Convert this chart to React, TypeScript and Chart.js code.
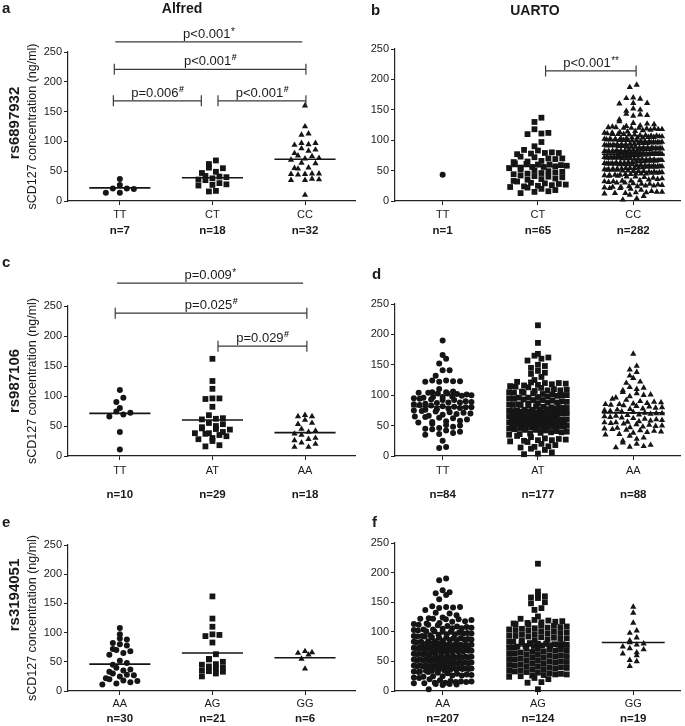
import React, { useEffect, useRef } from 'react';
import { Chart, registerables } from 'chart.js';
Chart.register(...registerables);

const FONT = "'Liberation Sans', Arial, Helvetica, sans-serif";
Chart.defaults.font.family = FONT;

// ---------- shared tick labels ----------
const yTickValues = [0, 50, 100, 150, 200, 250];
const rs6897932Genotypes = ['TT', 'CT', 'CC'];
const rs987106Genotypes = ['TT', 'AT', 'AA'];
const rs3194051Genotypes = ['AA', 'AG', 'GG'];

// ---------- a: Alfred rs6897932 ----------
const alfredRs6897932N = [7, 18, 32];
const alfredRs6897932TT = [37, 27, 21, 21, 20, 14, 14];
const alfredRs6897932CT = [68, 62, 56, 55, 49, 47, 42, 41, 40, 38, 36, 35, 30, 28, 27, 26, 17, 16];
const alfredRs6897932CC = [160, 125, 113, 111, 97, 97, 95, 94, 88, 86, 84, 80, 76, 75, 72, 71, 69, 64, 63, 56, 55, 54, 46, 46, 45, 45, 44, 37, 36, 35, 35, 10];
const alfredRs6897932Medians = [22, 39, 70];

// ---------- b: UARTO rs6897932 ----------
const uartoRs6897932N = [1, 65, 282];
const uartoRs6897932TT = [43];
const uartoRs6897932CT = [137, 130, 118, 112, 111, 110, 97, 90, 84, 83, 80, 79, 79, 78, 77, 73, 72, 70, 70, 69,
  66, 65, 64, 62, 61, 60, 60, 59, 58, 57, 56, 56, 55, 54, 52, 50, 49, 48, 47, 46,
  45, 44, 42, 41, 40, 39, 37, 36, 35, 33, 32, 30, 29, 28, 27, 26, 25, 24, 23, 22,
  20, 18, 16, 15, 13];
const uartoRs6897932CC = [191, 187, 170, 169, 168, 161, 161, 160, 152, 150, 148, 143, 142, 141, 140, 134, 131, 128, 127, 126,
  124, 123, 122, 121, 121, 120, 120, 120, 119, 119, 118, 118, 117, 116, 115, 114, 113, 112, 112, 111, 110, 110,
  110, 109, 109, 108, 108, 107, 107, 106, 106, 105, 105, 104, 104, 104, 103, 103, 102, 102, 101, 101,
  100, 100, 100, 99, 99, 98, 98, 97, 97, 97, 96, 96, 95, 95, 94, 94, 93, 93, 92, 92,
  92, 91, 91, 90, 90, 89, 89, 88, 88, 88, 87, 87, 86, 86, 85, 85, 85, 84, 84, 83,
  83, 83, 82, 82, 82, 81, 81, 81, 80, 80, 80, 80, 79, 79, 79, 79, 78, 78, 78, 78,
  78, 77, 77, 77, 77, 77, 101, 96, 93, 89, 86, 84, 81, 79, 98, 102, 88, 91, 95,
  76, 76, 76, 75, 75, 75, 74, 74, 74, 73, 73, 73, 72, 72, 72, 71, 71, 71, 70, 70,
  70, 69, 69, 69, 68, 68, 68, 67, 67, 66, 66, 66, 65, 65, 65, 64, 64, 63, 63, 63,
  62, 62, 61, 61, 61, 60, 60, 60, 59, 59, 58, 58, 58, 57, 57, 56, 56, 56, 55, 55,
  54, 54, 54, 53, 53, 52, 52, 51, 51, 51, 50, 50, 49, 49, 48, 48, 47, 47, 46, 46,
  45, 45, 44, 44, 43, 43, 42, 42, 41, 41, 40, 40, 71, 67, 62, 57, 53, 49, 45, 60,
  39, 38, 37, 36, 35, 34, 33, 33, 32, 32, 31, 30, 30, 29, 28, 28, 27, 26, 25, 25, 24, 24, 23, 23, 22, 21, 21, 20,
  18, 16, 15, 15, 14, 14, 13, 13, 12, 10, 8, 4, 2];
const uartoRs6897932Medians = [null, 57, 77];

// ---------- c: Alfred rs987106 ----------
const alfredRs987106N = [10, 29, 18];
const alfredRs987106TT = [110, 97, 90, 80, 74, 72, 69, 66, 40, 11];
const alfredRs987106AT = [162, 125, 112, 96, 96, 95, 82, 68, 63, 62, 61, 55, 53, 50, 48, 46, 45, 44, 40, 38, 38, 37, 35, 33, 30, 28, 25, 18, 16];
const alfredRs987106AA = [68, 66, 66, 60, 55, 53, 45, 42, 40, 37, 35, 30, 28, 26, 22, 20, 15, 15];
const alfredRs987106Medians = [71, 60, 39];

// ---------- d: UARTO rs987106 ----------
const uartoRs987106N = [84, 177, 88];
const uartoRs987106TT = [190, 166, 160, 152, 141, 141, 132, 124, 124, 123, 123, 122, 122, 110,
  106, 105, 105, 104, 104, 103, 103, 102, 101, 100,
  99, 98, 97, 97, 96, 95, 94, 93, 92, 92,
  90, 89, 88, 88, 87, 86, 85, 84, 83, 82,
  81, 80, 80, 79, 78, 77, 76, 75, 74, 73,
  72, 71, 70, 69, 68, 66, 65, 64, 62, 60,
  58, 56, 55, 53, 51, 50, 48, 46, 44, 42,
  40, 38, 36, 35, 25, 15, 13, 45, 57, 63];
const uartoRs987106AT = [215, 186, 168, 165, 162, 160, 157, 150, 148, 145, 140, 137, 135, 130, 125, 122, 121, 120, 120, 119, 118, 117, 116, 115, 114, 113, 112,
  110, 109, 108, 107, 106, 105, 104, 103, 102, 101, 100, 99, 98, 97, 96, 95, 94, 93, 92, 91,
  90, 89, 88, 87, 86, 85, 85, 84, 83, 82, 81, 80, 80, 79, 78, 77, 77, 76, 75, 75,
  74, 74, 73, 73, 72, 72, 72, 71, 71, 71, 108, 104, 100, 96, 92, 88, 84, 79, 76, 73,
  70, 70, 69, 69, 68, 68, 67, 67, 66, 66, 65, 65, 64, 64, 63, 63, 62, 62, 61, 61,
  60, 60, 59, 59, 58, 58, 57, 57, 56, 56, 55, 55, 54, 54, 53, 53, 52, 52, 51, 51,
  50, 50, 49, 49, 48, 48, 47, 47, 46, 46, 45, 45, 44, 43, 42, 41, 40, 39, 38, 37,
  36, 35, 64, 58, 52, 47, 43, 39, 55, 61,
  33, 31, 29, 28, 27, 26, 26, 25, 24, 23, 20, 18, 16, 15, 14, 12, 10, 6, 4, 3];
const uartoRs987106AA = [168, 148, 142, 138, 132, 128, 122, 120, 113, 112, 110, 108, 105, 103, 101, 100, 98, 96, 94, 92,
  90, 89, 88, 87, 86, 85, 84, 83, 82, 81, 80, 79, 78, 77, 76, 75, 74, 73, 72, 71,
  70, 70, 69, 68, 67, 66, 65, 64, 63, 62, 61, 60, 59, 58, 57, 56, 55, 54, 53, 52,
  51, 50, 49, 48, 47, 46, 45, 44, 43, 42, 41, 40, 39, 38, 36, 35, 33, 30, 28, 25,
  22, 20, 18, 16, 15, 14, 55, 85];
const uartoRs987106Medians = [81, 71, 71];

// ---------- e: Alfred rs3194051 ----------
const alfredRs3194051N = [30, 21, 6];
const alfredRs3194051AA = [108, 97, 90, 88, 82, 80, 78, 72, 70, 68, 65, 62, 52, 48, 45, 40, 37, 35, 33, 30, 28, 27, 25, 22, 20, 18, 17, 15, 13, 11];
const alfredRs3194051AG = [162, 124, 110, 97, 96, 94, 83, 63, 55, 54, 50, 46, 45, 42, 40, 38, 35, 34, 33, 30, 25];
const alfredRs3194051GG = [68, 66, 65, 62, 55, 38];
const alfredRs3194051Medians = [46, 65, 57];

// ---------- f: UARTO rs3194051 ----------
const uartoRs3194051N = [207, 124, 19];
const uartoRs3194051AA = [190, 187, 170, 167, 165, 162, 155, 143, 142, 142, 141, 140, 137, 132, 131, 128, 124, 123, 122, 122, 121, 121, 120, 118, 117,
  115, 114, 113, 112, 111, 110, 109, 108, 107, 106, 105, 104, 104, 103, 102, 101, 100, 100, 99, 98,
  97, 96, 96, 95, 94, 93, 92, 92, 91, 90, 89, 89, 88, 87, 86, 86, 85, 84, 83, 83,
  82, 81, 81, 80, 80, 79, 79, 78, 78, 77, 77, 76, 76, 75, 75, 74, 74, 73, 73, 72,
  72, 71, 71, 71, 70, 70, 112, 106, 101, 97, 93, 90, 87, 84, 81, 78, 75, 72,
  69, 69, 68, 68, 67, 67, 66, 66, 65, 65, 64, 64, 63, 63, 62, 62, 61, 61, 60, 60,
  59, 59, 58, 58, 57, 57, 56, 56, 55, 55, 54, 54, 53, 53, 52, 52, 51, 51, 50, 50,
  49, 49, 48, 48, 47, 47, 46, 46, 45, 45, 44, 44, 43, 43, 42, 42, 41, 41, 40, 40,
  39, 39, 38, 38, 37, 37, 36, 36, 35, 35, 34, 34, 33, 33, 32, 32, 31, 30,
  29, 28, 27, 26, 26, 25, 25, 24, 23, 22, 20, 18, 17, 16, 16, 15, 15, 14, 14, 13, 13, 12, 12, 11, 10, 3];
const uartoRs3194051AG = [215, 168, 162, 160, 158, 157, 150, 148, 140, 137, 126, 122, 120, 119, 118, 117, 116, 115, 114, 113, 112, 111,
  110, 109, 108, 107, 106, 105, 104, 103, 102, 101, 100, 99, 98, 97, 96, 95, 94, 93, 92, 91,
  90, 89, 88, 87, 86, 85, 84, 83, 82, 81, 80, 80, 79, 79, 78, 78, 77, 77, 76, 76,
  75, 74, 73, 72, 71, 70, 69, 68, 67, 66, 65, 64, 63, 62, 61, 60, 59, 58, 57, 56,
  55, 54, 53, 52, 51, 50, 49, 48, 47, 46, 45, 44, 43, 42, 41, 40, 39, 38, 37, 36,
  35, 34, 33, 32, 31, 30, 70, 60, 50, 40,
  29, 28, 28, 27, 26, 25, 24, 22, 20, 15, 14, 3];
const uartoRs3194051GG = [142, 132, 115, 102, 98, 90, 85, 82, 80, 78, 75, 72, 70, 65, 63, 60, 52, 50, 42];
const uartoRs3194051Medians = [70, 76, 82];

// ---------- significance annotations ----------
const alfredRs6897932Brackets = [
  { x1: -0.05, x2: 1.97, y: 267, text: 'p<0.001', sup: '*', caps: false },
  { x1: -0.06, x2: 2.01, y: 221, text: 'p<0.001', sup: '#', caps: true },
  { x1: -0.07, x2: 0.88, y: 168, text: 'p=0.006', sup: '#', caps: true },
  { x1: 1.06, x2: 2.01, y: 168, text: 'p<0.001', sup: '#', caps: true },
];
const uartoRs6897932Brackets = [
  { x1: 1.08, x2: 2.03, y: 214, text: 'p<0.001', sup: '**', caps: true },
];
const alfredRs987106Brackets = [
  { x1: -0.03, x2: 1.98, y: 288, text: 'p=0.009', sup: '*', caps: false },
  { x1: -0.05, x2: 2.02, y: 238, text: 'p=0.025', sup: '#', caps: true },
  { x1: 1.06, x2: 2.02, y: 183, text: 'p=0.029', sup: '#', caps: true },
];

const Y_TITLE = 'sCD127 concentration (ng/ml)';

type Box = { left: number; top: number; width: number; height: number };
type Area = { l: number; t: number; r: number; b: number };
type PanelCfg = {
  canvas: Box; area: Area; xMin: number; xMax: number;
  cats: string[]; ns: number[]; groups: number[][]; medians: (number | null)[];
  brackets: any[]; letter: { text: string; x: number; y: number };
  title?: { text: string; x: number; y: number };
  rowLabel?: { text: string; x: number; y: number };
  yTitleX?: number; tickPad: number; nY: number;
};

const LEFT = { xMin: -0.56, xMax: 2.54 };
const RIGHT = { xMin: -0.5, xMax: 2.5 };

const panels: PanelCfg[] = [
  {
    canvas: { left: 0, top: 0, width: 362, height: 240 }, area: { l: 68, t: 52, r: 355, b: 201 }, ...LEFT,
    cats: rs6897932Genotypes, ns: alfredRs6897932N,
    groups: [alfredRs6897932TT, alfredRs6897932CT, alfredRs6897932CC], medians: alfredRs6897932Medians,
    brackets: alfredRs6897932Brackets, letter: { text: 'a', x: 2, y: 13 },
    title: { text: 'Alfred', x: 182, y: 13 }, rowLabel: { text: 'rs6897932', x: 15, y: 123 }, yTitleX: 33,
    tickPad: 3, nY: 231,
  },
  {
    canvas: { left: 340, top: 0, width: 345, height: 240 }, area: { l: 395, t: 49, r: 683, b: 201 }, ...RIGHT,
    cats: rs6897932Genotypes, ns: uartoRs6897932N,
    groups: [uartoRs6897932TT, uartoRs6897932CT, uartoRs6897932CC], medians: uartoRs6897932Medians,
    brackets: uartoRs6897932Brackets, letter: { text: 'b', x: 371, y: 15 },
    title: { text: 'UARTO', x: 535, y: 15 }, tickPad: 3, nY: 231,
  },
  {
    canvas: { left: 0, top: 240, width: 362, height: 265 }, area: { l: 68, t: 306, r: 355, b: 456 }, ...LEFT,
    cats: rs987106Genotypes, ns: alfredRs987106N,
    groups: [alfredRs987106TT, alfredRs987106AT, alfredRs987106AA], medians: alfredRs987106Medians,
    brackets: alfredRs987106Brackets, letter: { text: 'c', x: 2, y: 267 },
    rowLabel: { text: 'rs987106', x: 15, y: 381 }, yTitleX: 33, tickPad: 4, nY: 495,
  },
  {
    canvas: { left: 340, top: 240, width: 345, height: 265 }, area: { l: 395, t: 304, r: 683, b: 456 }, ...RIGHT,
    cats: rs987106Genotypes, ns: uartoRs987106N,
    groups: [uartoRs987106TT, uartoRs987106AT, uartoRs987106AA], medians: uartoRs987106Medians,
    brackets: [], letter: { text: 'd', x: 372, y: 279 }, tickPad: 4, nY: 495,
  },
  {
    canvas: { left: 0, top: 505, width: 362, height: 221 }, area: { l: 68, t: 545, r: 355, b: 691 }, ...LEFT,
    cats: rs3194051Genotypes, ns: alfredRs3194051N,
    groups: [alfredRs3194051AA, alfredRs3194051AG, alfredRs3194051GG], medians: alfredRs3194051Medians,
    brackets: [], letter: { text: 'e', x: 2, y: 527 },
    rowLabel: { text: 'rs3194051', x: 15, y: 595 }, yTitleX: 33, tickPad: 2, nY: 719,
  },
  {
    canvas: { left: 340, top: 505, width: 345, height: 221 }, area: { l: 395, t: 543, r: 683, b: 691 }, ...RIGHT,
    cats: rs3194051Genotypes, ns: uartoRs3194051N,
    groups: [uartoRs3194051AA, uartoRs3194051AG, uartoRs3194051GG], medians: uartoRs3194051Medians,
    brackets: [], letter: { text: 'f', x: 372, y: 527 }, tickPad: 2, nY: 719,
  },
];

// Deterministic scatter-dot layout (rows by value, spread horizontally)
function swarm(values: number[], pxY: number, pxX: number): number[] {
  const idx = values.map((_, i) => i).sort((a, b) => values[a] - values[b]);
  const offs = new Array(values.length).fill(0);
  const BIN = 5.5, STEP = 7, HALF = 29;
  let row: number[] = [];
  const flush = () => {
    const k = row.length;
    if (!k) return;
    const step = k > 1 ? Math.min(STEP, (2 * HALF) / (k - 1)) : 0;
    const order: number[] = [];
    let lo = 0, hi = k - 1, t = 0;
    while (lo <= hi) { order.push(t % 2 === 0 ? row[lo++] : row[hi--]); t++; }
    order.forEach((id, p) => { offs[id] = ((p - (k - 1) / 2) * step) / pxX; });
    row = [];
  };
  let start = -Infinity;
  for (const id of idx) {
    if ((values[id] - start) * pxY >= BIN) { flush(); start = values[id]; }
    row.push(id);
  }
  flush();
  return offs;
}

const STYLES = ['circle', 'rect', 'triangle'];
const RADII = [3, 4.1, 3.6];
const INK = '#151515';

function Panel({ cfg }: { cfg: PanelCfg }) {
  const ref = useRef<HTMLCanvasElement>(null);
  useEffect(() => {
    const canvas = ref.current!;
    const cv = cfg.canvas, area = cfg.area;
    const yAxisW = area.l - cv.left;
    const padTop = area.t - cv.top;
    const padRight = cv.left + cv.width - area.r;
    const xAxisH = cv.top + cv.height - area.b;
    const pxY = (area.b - area.t) / 250;
    const pxX = (area.r - area.l) / (cfg.xMax - cfg.xMin);
    const ox = cv.left, oy = cv.top;

    const datasets = cfg.groups.map((vals, gi) => {
      const offs = swarm(vals, pxY, pxX);
      return {
        data: vals.map((v, i) => ({ x: gi + offs[i], y: v })),
        pointStyle: STYLES[gi], pointRadius: RADII[gi], pointHoverRadius: RADII[gi],
        backgroundColor: INK, borderColor: INK, borderWidth: 0, clip: false as any,
      };
    });

    const overlay = {
      id: 'overlay',
      afterDatasetsDraw(chart: any) {
        const ctx = chart.ctx, xs = chart.scales.x, ys = chart.scales.y;
        ctx.save();
        ctx.strokeStyle = INK;
        ctx.lineWidth = 1.6;
        cfg.medians.forEach((m, gi) => {
          if (m == null) return;
          const y = ys.getPixelForValue(m);
          ctx.beginPath();
          ctx.moveTo(xs.getPixelForValue(gi - 0.33), y);
          ctx.lineTo(xs.getPixelForValue(gi + 0.33), y);
          ctx.stroke();
        });
        ctx.restore();
      },
      afterDraw(chart: any) {
        const ctx = chart.ctx, xs = chart.scales.x, ys = chart.scales.y;
        ctx.save();
        // brackets
        cfg.brackets.forEach((b: any) => {
          const x1 = xs.getPixelForValue(b.x1), x2 = xs.getPixelForValue(b.x2), y = ys.getPixelForValue(b.y);
          ctx.strokeStyle = '#3a3a3a';
          ctx.lineWidth = 1.2;
          ctx.beginPath();
          ctx.moveTo(x1, y); ctx.lineTo(x2, y);
          if (b.caps) {
            ctx.moveTo(x1, y - 5.5); ctx.lineTo(x1, y + 5.5);
            ctx.moveTo(x2, y - 5.5); ctx.lineTo(x2, y + 5.5);
          }
          ctx.stroke();
          const mainFont = `13px ${FONT}`;
          const supFont = b.sup === '#' ? `bold 9px ${FONT}` : `10px ${FONT}`;
          ctx.font = mainFont;
          const w1 = ctx.measureText(b.text).width;
          ctx.font = supFont;
          const w2 = ctx.measureText(b.sup).width;
          const x0 = (x1 + x2) / 2 - (w1 + w2) / 2;
          const by = y - 4;
          ctx.fillStyle = '#1a1a1a';
          ctx.textAlign = 'left';
          ctx.textBaseline = 'alphabetic';
          ctx.font = mainFont;
          ctx.fillText(b.text, x0, by);
          ctx.font = supFont;
          ctx.fillText(b.sup, x0 + w1 + 0.5, by - (b.sup === '#' ? 5 : 3));
        });
        // n labels
        ctx.fillStyle = '#1a1a1a';
        ctx.font = `bold 11.5px ${FONT}`;
        ctx.textAlign = 'center';
        ctx.textBaseline = 'middle';
        cfg.ns.forEach((n, gi) => {
          ctx.fillText(`n=${n}`, xs.getPixelForValue(gi), cfg.nY - oy);
        });
        // panel letter
        ctx.font = `bold 15px ${FONT}`;
        ctx.textAlign = 'left';
        ctx.textBaseline = 'alphabetic';
        ctx.fillText(cfg.letter.text, cfg.letter.x - ox, cfg.letter.y - oy);
        // column title
        if (cfg.title) {
          ctx.font = `bold 14px ${FONT}`;
          ctx.textAlign = 'center';
          ctx.fillText(cfg.title.text, cfg.title.x - ox, cfg.title.y - oy);
        }
        // row label and y-axis title
        if (cfg.rowLabel) {
          ctx.save();
          ctx.translate(cfg.rowLabel.x - ox, cfg.rowLabel.y - oy);
          ctx.rotate(-Math.PI / 2);
          ctx.font = `bold 15px ${FONT}`;
          ctx.textAlign = 'center';
          ctx.textBaseline = 'middle';
          ctx.fillText(cfg.rowLabel.text, 0, 0);
          ctx.restore();
        }
        if (cfg.yTitleX != null) {
          ctx.save();
          ctx.translate(cfg.yTitleX - ox, (area.t + area.b) / 2 - oy);
          ctx.rotate(-Math.PI / 2);
          ctx.font = `12.5px ${FONT}`;
          ctx.textAlign = 'center';
          ctx.textBaseline = 'middle';
          ctx.fillText(Y_TITLE, 0, 0);
          ctx.restore();
        }
        ctx.restore();
      },
    };

    const axisGrid = { display: true, drawOnChartArea: false, drawTicks: true, tickLength: 4, color: '#222', lineWidth: 1 };
    const chart = new Chart(canvas, {
      type: 'scatter',
      data: { datasets: datasets as any },
      options: {
        responsive: false,
        animation: false,
        events: [],
        layout: { padding: { left: 0, top: padTop, right: padRight, bottom: 0 } },
        plugins: { legend: { display: false }, tooltip: { enabled: false } },
        scales: {
          x: {
            type: 'linear', min: cfg.xMin, max: cfg.xMax,
            afterBuildTicks: (s: any) => { s.ticks = cfg.cats.map((_, i) => ({ value: i })); },
            afterFit: (s: any) => { s.height = xAxisH; },
            ticks: {
              callback: (v: any) => cfg.cats[Math.round(Number(v))] ?? '',
              font: { size: 11, family: FONT }, color: '#1a1a1a', padding: cfg.tickPad,
              autoSkip: false, maxRotation: 0, minRotation: 0,
            },
            grid: axisGrid as any,
            border: { display: true, color: '#222', width: 1.2 },
          },
          y: {
            type: 'linear', min: 0, max: 250,
            afterBuildTicks: (s: any) => { s.ticks = yTickValues.map((v) => ({ value: v })); },
            afterFit: (s: any) => { s.width = yAxisW; },
            ticks: { font: { size: 11, family: FONT }, color: '#1a1a1a', padding: 2 },
            grid: axisGrid as any,
            border: { display: true, color: '#222', width: 1.2 },
          },
        },
      },
      plugins: [overlay],
    } as any);
    return () => chart.destroy();
  }, [cfg]);
  return (
    <canvas
      ref={ref}
      width={cfg.canvas.width}
      height={cfg.canvas.height}
      style={{ position: 'absolute', left: cfg.canvas.left, top: cfg.canvas.top, width: cfg.canvas.width, height: cfg.canvas.height }}
    />
  );
}

export default function App() {
  return (
    <div style={{ position: 'absolute', left: 0, top: 0, width: 685, height: 726, background: '#fff', overflow: 'hidden' }}>
      {panels.map((p, i) => <Panel key={i} cfg={p} />)}
    </div>
  );
}
